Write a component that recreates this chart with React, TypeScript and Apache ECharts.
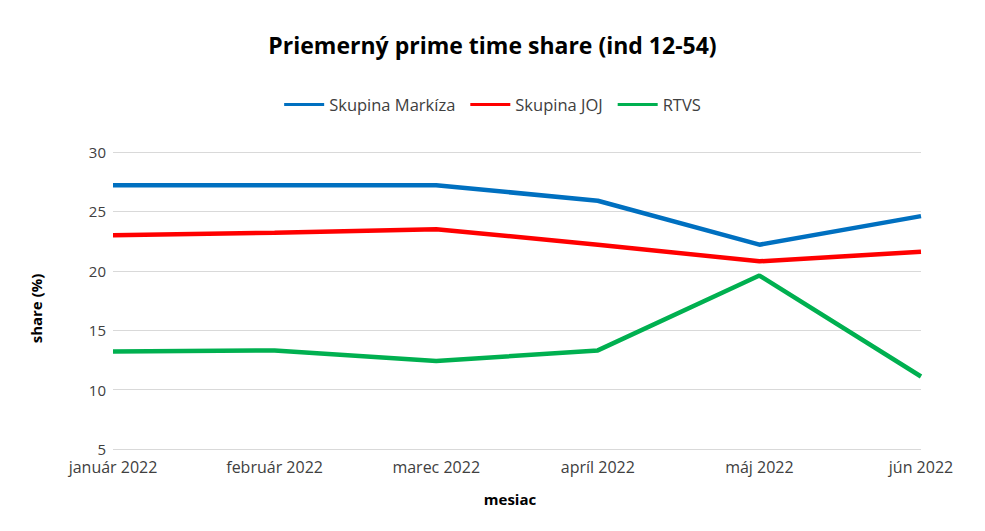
import React, { useEffect, useRef } from "react";
import * as echarts from "echarts";

const months = ["január 2022", "február 2022", "marec 2022", "apríl 2022", "máj 2022", "jún 2022"];
const markiza = [27.2, 27.2, 27.2, 25.9, 22.2, 24.6];
const joj = [23.0, 23.2, 23.5, 22.2, 20.8, 21.6];
const rtvs = [13.2, 13.3, 12.4, 13.3, 19.6, 11.1];

const FONT = "'Open Sans', 'Noto Sans', sans-serif";

export default function App() {
  const ref = useRef<HTMLDivElement>(null);
  useEffect(() => {
    if (!ref.current) return;
    const chart = echarts.init(ref.current, null, { renderer: "svg" });
    chart.setOption({
      animation: false,
      backgroundColor: "#ffffff",
      title: {
        text: "Priemerný prime time share (ind 12-54)",
        left: "center",
        top: 28,
        textStyle: { fontFamily: FONT, fontSize: 23, fontWeight: "bold", color: "#000000" },
      },
      legend: {
        top: 91,
        left: "center",
        itemWidth: 40,
        itemHeight: 3,
        itemGap: 15,
        icon: "rect",
        textStyle: { fontFamily: FONT, fontSize: 16.5, color: "#404040" },
        data: ["Skupina Markíza", "Skupina JOJ", "RTVS"],
      },
      grid: { left: 113, right: 64, top: 152, bottom: 82, containLabel: false },
      xAxis: {
        type: "category",
        data: months,
        boundaryGap: false,
        name: "mesiac",
        nameLocation: "middle",
        nameGap: 42,
        nameTextStyle: { fontFamily: FONT, fontSize: 15, fontWeight: "bold", color: "#000000", padding: [0, 14, 0, 0] },
        axisLine: { show: false },
        axisTick: { show: false },
        axisLabel: { fontFamily: FONT, fontSize: 16, color: "#404040", margin: 10, lineHeight: 16 },
      },
      yAxis: {
        type: "value",
        min: 5,
        max: 30,
        interval: 5,
        name: "share (%)",
        nameLocation: "middle",
        nameGap: 70,
        nameRotate: 90,
        nameTextStyle: { fontFamily: FONT, fontSize: 15, fontWeight: "bold", color: "#000000", padding: [0, 16, 0, 0] },
        axisLine: { show: false },
        axisTick: { show: false },
        axisLabel: { fontFamily: FONT, fontSize: 15, color: "#404040", margin: 7, lineHeight: 13 },
        splitLine: { lineStyle: { color: "#d9d9d9", width: 1 } },
      },
      series: [
        { name: "Skupina Markíza", type: "line", data: markiza, showSymbol: false, color: "#0070c0", lineStyle: { width: 4.5, color: "#0070c0" } },
        { name: "Skupina JOJ", type: "line", data: joj, showSymbol: false, color: "#ff0000", lineStyle: { width: 4.5, color: "#ff0000" } },
        { name: "RTVS", type: "line", data: rtvs, showSymbol: false, color: "#00b050", lineStyle: { width: 4.5, color: "#00b050" } },
      ],
    });
    return () => chart.dispose();
  }, []);
  return <div ref={ref} style={{ width: 985, height: 531, margin: -8 }} />;
}
